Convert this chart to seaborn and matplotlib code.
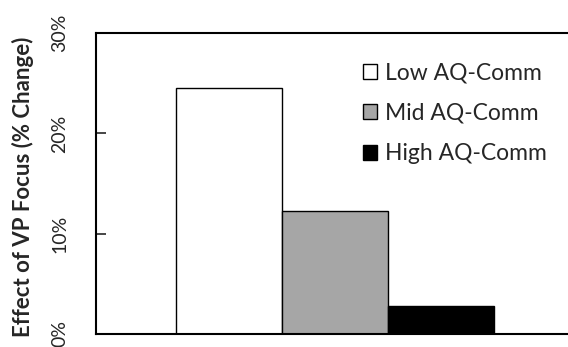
import pandas as pd
import seaborn as sns
import matplotlib.pyplot as plt

groups = ["Low AQ-Comm", "Mid AQ-Comm", "High AQ-Comm"]
effects = [24.5, 12.3, 2.8]
colors = ["#ffffff", "#a6a6a6", "#000000"]
yticks = [0, 10, 20, 30]

df = pd.DataFrame({"x": ["all"] * 3, "group": groups, "effect": effects})

sns.set_style("ticks")
plt.rcParams["font.family"] = ["Lato", "DejaVu Sans"]

fig = plt.figure(figsize=(5.68, 3.47), dpi=100)
ax = fig.add_axes([0.169, 0.0375, 0.84, 0.867])

sns.barplot(data=df, x="x", y="effect", hue="group", hue_order=groups,
            palette=colors, edgecolor="black", linewidth=1.0, width=0.8,
            saturation=1, ax=ax)

ax.set_xlim(-0.6, 0.6)
ax.set_ylim(0, 30)
ax.set_yticks(yticks)
ax.set_yticklabels([f"{v}%" for v in yticks], rotation=90, va="center", fontsize=14)
ax.tick_params(axis="y", direction="in", length=7, width=1.2, pad=20)
ax.tick_params(axis="x", bottom=False, labelbottom=False)
ax.set_xlabel("")
ax.set_ylabel("Effect of VP Focus (% Change)", fontsize=16, fontweight="bold")
ax.yaxis.set_label_coords(-0.13, 0.49)

for side in ["left", "bottom", "top"]:
    ax.spines[side].set_linewidth(1.5)
    ax.spines[side].set_color("black")
ax.spines["right"].set_visible(False)

ax.legend(loc="upper left", bbox_to_anchor=(0.602, 0.88), bbox_transform=fig.transFigure,
          frameon=False, fontsize=16.5, handlelength=0.65, handleheight=0.65,
          handletextpad=0.35, labelspacing=0.85)

fig.savefig("out.png", dpi=100)
